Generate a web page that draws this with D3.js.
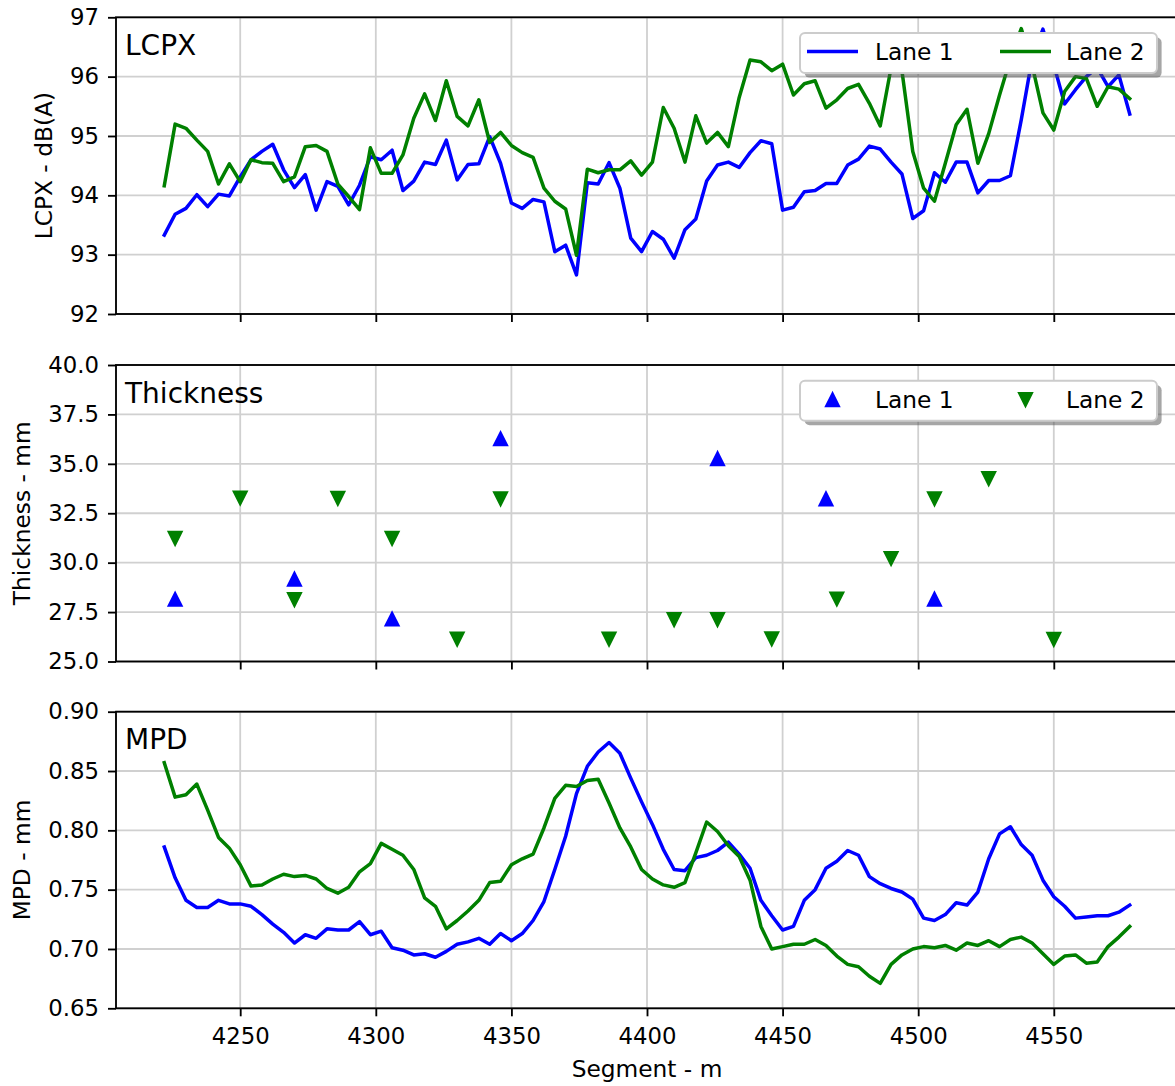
<!DOCTYPE html>
<html>
<head>
<meta charset="utf-8">
<script src="https://cdn.jsdelivr.net/npm/d3@7"></script>
<style>
  html, body { margin: 0; padding: 0; background: #fff; }
  svg { display: block; }
  text { font-family: "DejaVu Sans", sans-serif; fill: #000; }
</style>
</head>
<body>
<svg id="chart" width="1175" height="1086"></svg>
<script>
// ---------------- DATA ----------------
const segments = [4222,4226,4230,4234,4238,4242,4246,4250,4254,4258,4262,4266,4270,4274,4278,4282,4286,4290,4294,4298,
  4302,4306,4310,4314,4318,4322,4326,4330,4334,4338,4342,4346,4350,4354,4358,4362,4366,4370,4374,4378,
  4382,4386,4390,4394,4398,4402,4406,4410,4414,4418,4422,4426,4430,4434,4438,4442,4446,4450,4454,4458,
  4462,4466,4470,4474,4478,4482,4486,4490,4494,4498,4502,4506,4510,4514,4518,4522,4526,4530,4534,4538,
  4542,4546,4550,4554,4558,4562,4566,4570,4574,4578];

const lcpxLane1 = [93.33,93.68,93.78,94.01,93.81,94.02,93.99,94.31,94.60,94.74,94.86,94.43,94.13,94.35,93.75,94.23,94.15,93.84,94.17,94.65,
  94.60,94.76,94.08,94.24,94.56,94.52,94.93,94.26,94.52,94.53,94.99,94.54,93.87,93.78,93.93,93.89,93.05,93.16,92.66,94.21,
  94.19,94.55,94.12,93.28,93.05,93.39,93.26,92.94,93.42,93.60,94.24,94.51,94.56,94.47,94.72,94.92,94.87,93.75,93.80,94.06,
  94.08,94.20,94.20,94.51,94.61,94.83,94.78,94.56,94.36,93.61,93.74,94.38,94.22,94.56,94.56,94.04,94.25,94.25,94.33,95.27,
  96.30,96.80,96.20,95.54,95.78,96.00,96.15,95.83,96.03,95.37];

const lcpxLane2 = [94.16,95.20,95.13,94.93,94.74,94.19,94.53,94.23,94.60,94.55,94.54,94.23,94.31,94.82,94.84,94.74,94.19,93.98,93.76,94.80,
  94.37,94.37,94.68,95.30,95.71,95.26,95.93,95.33,95.17,95.61,94.89,95.06,94.84,94.72,94.64,94.12,93.90,93.77,92.99,94.44,
  94.38,94.43,94.43,94.58,94.34,94.56,95.48,95.13,94.56,95.34,94.88,95.06,94.82,95.65,96.28,96.25,96.10,96.21,95.69,95.88,
  95.93,95.47,95.61,95.80,95.87,95.55,95.17,96.15,96.10,94.74,94.12,93.90,94.54,95.19,95.45,94.54,95.04,95.69,96.30,96.81,
  96.20,95.39,95.10,95.75,96.00,95.97,95.50,95.83,95.79,95.63];

const mpdLane1 = [0.786,0.760,0.741,0.735,0.735,0.741,0.738,0.738,0.736,0.729,0.721,0.714,0.705,0.712,0.709,0.717,0.716,0.716,0.723,0.712,
  0.715,0.701,0.699,0.695,0.696,0.693,0.698,0.704,0.706,0.709,0.704,0.713,0.707,0.713,0.724,0.740,0.767,0.795,0.831,0.854,
  0.866,0.874,0.865,0.844,0.824,0.805,0.784,0.767,0.766,0.777,0.779,0.783,0.790,0.780,0.768,0.741,0.728,0.716,0.719,0.741,
  0.750,0.768,0.774,0.783,0.779,0.761,0.755,0.751,0.748,0.742,0.726,0.724,0.729,0.739,0.737,0.748,0.776,0.797,0.803,0.788,
  0.779,0.758,0.744,0.736,0.726,0.727,0.728,0.728,0.731,0.737];

const mpdLane2 = [0.857,0.828,0.830,0.839,0.817,0.794,0.785,0.771,0.753,0.754,0.759,0.763,0.761,0.762,0.759,0.751,0.747,0.752,0.765,0.772,
  0.789,0.784,0.779,0.767,0.743,0.736,0.717,0.724,0.732,0.741,0.756,0.757,0.771,0.776,0.780,0.802,0.827,0.838,0.837,0.842,
  0.843,0.823,0.802,0.786,0.767,0.759,0.754,0.752,0.756,0.781,0.807,0.799,0.787,0.778,0.758,0.719,0.700,0.702,0.704,0.704,
  0.708,0.703,0.694,0.687,0.685,0.677,0.671,0.687,0.695,0.700,0.702,0.701,0.703,0.699,0.705,0.703,0.707,0.702,0.708,0.710,
  0.705,0.696,0.687,0.694,0.695,0.688,0.689,0.702,0.710,0.719];

const thickLane1Seg = [4226,4270,4306,4346,4426,4466,4506];
const thickLane1Val = [28.15,29.17,27.15,36.27,35.26,33.23,28.16];
const thickLane2Seg = [4226,4250,4270,4286,4306,4330,4346,4386,4410,4426,4446,4470,4490,4506,4526,4550];
const thickLane2Val = [31.23,33.27,28.13,33.25,31.23,26.13,33.23,26.13,27.12,27.12,26.14,28.16,30.21,33.23,34.25,26.12];

const xTicks = [4250,4300,4350,4400,4450,4500,4550];
const lcpxTicks = [92,93,94,95,96,97];
const thickTicks = [25.0,27.5,30.0,32.5,35.0,37.5,40.0];
const mpdTicks = [0.65,0.70,0.75,0.80,0.85,0.90];
const seriesNames = ["Lane 1","Lane 2"];
const panelTitles = ["LCPX","Thickness","MPD"];
const yLabels = ["LCPX - dB(A)","Thickness - mm","MPD - mm"];
const xLabel = "Segment - m";

// ---------------- LAYOUT ----------------
const svg = d3.select("#chart");
const L = 116, R = 1178;
const colors = ["#0000ff", "#008000"];
const FS = 22.8;      // tick labels
const FSL = 23.3;     // axis labels / legend
const x = d3.scaleLinear().domain([4204.2, 4595.8]).range([L, R]);

const panels = [
  {top: 17.3, bottom: 314, domain: [92, 97], ticks: lcpxTicks, fmt: d3.format("d"), ylabX: 44},
  {top: 365, bottom: 661.5, domain: [25, 40], ticks: thickTicks, fmt: d3.format(".1f"), ylabX: 21.5},
  {top: 711.7, bottom: 1008.3, domain: [0.65, 0.90], ticks: mpdTicks, fmt: d3.format(".2f"), ylabX: 21.5}
];

panels.forEach((p, pi) => {
  p.y = d3.scaleLinear().domain(p.domain).range([p.bottom, p.top]);
  const g = svg.append("g");
  const cid = "clip" + pi;
  svg.append("clipPath").attr("id", cid).append("rect")
    .attr("x", L).attr("y", p.top).attr("width", R - L).attr("height", p.bottom - p.top);
  g.append("g").selectAll("line").data(xTicks).join("line")
    .attr("x1", d => x(d)).attr("x2", d => x(d)).attr("y1", p.top).attr("y2", p.bottom)
    .attr("stroke", "#d0d0d0").attr("stroke-width", 1.8);
  g.append("g").selectAll("line").data(p.ticks).join("line")
    .attr("x1", L).attr("x2", R).attr("y1", d => p.y(d)).attr("y2", d => p.y(d))
    .attr("stroke", "#d0d0d0").attr("stroke-width", 1.8);
  p.g = g; p.clip = cid;
});

// ---------------- MARKS ----------------
function drawLine(p, vals, color) {
  const line = d3.line().x((d, i) => x(segments[i])).y(d => p.y(d));
  p.g.append("path").datum(vals).attr("d", line)
    .attr("fill", "none").attr("stroke", color).attr("stroke-width", 3.5)
    .attr("stroke-linejoin", "round").attr("stroke-linecap", "square")
    .attr("clip-path", `url(#${p.clip})`);
}
drawLine(panels[0], lcpxLane1, colors[0]);
drawLine(panels[0], lcpxLane2, colors[1]);
drawLine(panels[2], mpdLane1, colors[0]);
drawLine(panels[2], mpdLane2, colors[1]);

const s = 6.6;
const triUp = `M0,${-s}L${-s},${s}L${s},${s}Z`;
const triDown = `M0,${s}L${-s},${-s}L${s},${-s}Z`;
function drawMarkers(p, segs, vals, color, path) {
  p.g.append("g").selectAll("path").data(vals).join("path")
    .attr("d", path)
    .attr("transform", (d, i) => `translate(${x(segs[i])},${p.y(d)})`)
    .attr("fill", color).attr("stroke", color).attr("stroke-width", 2);
}
drawMarkers(panels[1], thickLane1Seg, thickLane1Val, colors[0], triUp);
drawMarkers(panels[1], thickLane2Seg, thickLane2Val, colors[1], triDown);

// ---------------- AXES ----------------
panels.forEach((p, pi) => {
  const g = p.g;
  g.append("rect").attr("x", L).attr("y", p.top).attr("width", R - L).attr("height", p.bottom - p.top)
    .attr("fill", "none").attr("stroke", "#000").attr("stroke-width", 1.85);
  const ya = d3.axisLeft(p.y).tickValues(p.ticks).tickFormat(p.fmt).tickSize(8).tickPadding(9);
  const yg = g.append("g").attr("transform", `translate(${L},0)`).call(ya);
  yg.select(".domain").remove();
  yg.selectAll(".tick line").attr("stroke", "#000").attr("stroke-width", 1.85);
  yg.selectAll(".tick text").attr("font-size", FS).attr("font-family", "DejaVu Sans").attr("fill", "#000");
  const xa = d3.axisBottom(x).tickValues(xTicks).tickSize(8).tickPadding(12)
    .tickFormat(pi === 2 ? d3.format("d") : () => "");
  const xg = g.append("g").attr("transform", `translate(0,${p.bottom})`).call(xa);
  xg.select(".domain").remove();
  xg.selectAll(".tick line").attr("stroke", "#000").attr("stroke-width", 1.85);
  xg.selectAll(".tick text").attr("font-size", FS).attr("font-family", "DejaVu Sans").attr("fill", "#000");
  g.append("text")
    .attr("transform", `translate(${p.ylabX},${(p.top + p.bottom) / 2}) rotate(-90)`)
    .attr("text-anchor", "middle").attr("dy", "0.35em")
    .attr("font-size", FSL).text(yLabels[pi]);
  g.append("text").attr("x", 125).attr("y", p.top + 37.7)
    .attr("font-size", 28).text(panelTitles[pi]);
  const lx = 800, ly = p.top + 15.7, lw = 357, lh = 40;
  if (pi < 2) {
    const lg = g.append("g");
    lg.append("rect").attr("x", lx + 4.6).attr("y", ly + 4.6).attr("width", lw).attr("height", lh)
      .attr("rx", 5).attr("fill", "#4d4d4d").attr("opacity", 0.5);
    lg.append("rect").attr("x", lx).attr("y", ly).attr("width", lw).attr("height", lh)
      .attr("rx", 5).attr("fill", "#fff").attr("stroke", "#cccccc").attr("stroke-width", 2);
    const itemX = [807, 1000];
    const textX = [875, 1066];
    seriesNames.forEach((nm, k) => {
      if (pi === 0) {
        lg.append("line").attr("x1", itemX[k]).attr("x2", itemX[k] + 51)
          .attr("y1", ly + 18.5).attr("y2", ly + 18.5)
          .attr("stroke", colors[k]).attr("stroke-width", 3.5);
      } else {
        lg.append("path").attr("d", k === 0 ? triUp : triDown)
          .attr("transform", `translate(${itemX[k] + 25.5},${ly + 19})`)
          .attr("fill", colors[k]).attr("stroke", colors[k]).attr("stroke-width", 2);
      }
      lg.append("text").attr("x", textX[k]).attr("y", ly + 27)
        .attr("font-size", FSL).text(nm);
    });
  }
});

svg.append("text").attr("x", (L + R) / 2).attr("y", 1077)
  .attr("text-anchor", "middle").attr("font-size", FSL).text(xLabel);
</script>
</body>
</html>
